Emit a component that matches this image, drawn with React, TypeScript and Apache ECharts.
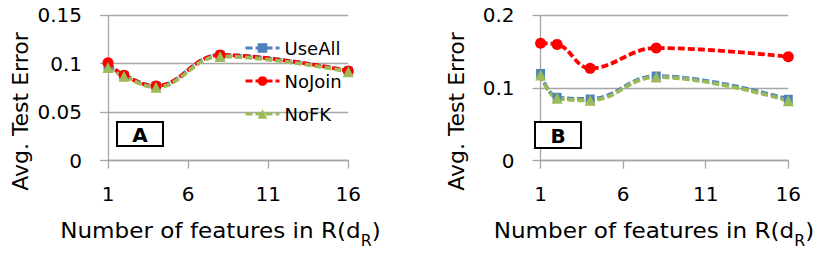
import React, { useEffect, useRef } from "react";
import * as echarts from "echarts";

const xValues = [1, 2, 4, 8, 16];
const xTicks = { min: 1, max: 16, interval: 5 };

// Panel A
const aUseAll = [0.098, 0.088, 0.077, 0.109, 0.0925];
const aNoJoin = [0.101, 0.088, 0.077, 0.109, 0.0925];
const aNoFK = [0.096, 0.087, 0.0757, 0.1075, 0.0918];

// Panel B
const bUseAll = [0.12, 0.0872, 0.0849, 0.1165, 0.0845];
const bNoJoin = [0.1615, 0.16, 0.127, 0.155, 0.143];
const bNoFK = [0.118, 0.086, 0.083, 0.115, 0.0825];

const seriesNames = ["UseAll", "NoJoin", "NoFK"];
const yTitle = "Avg. Test Error";
const xTitleParts = ["Number of features in R(d", "R", ")"];
const panelLabels = ["A", "B"];

const FONT = "DejaVu Sans";
const COLORS = { UseAll: "#4F81BD", NoJoin: "#FF0000", NoFK: "#9BBB59" };
const SYMBOLS = { UseAll: ["rect", 9], NoJoin: ["circle", 11], NoFK: ["triangle", 11] };

function pairs(vals: number[]) {
  return xValues.map((x, i) => [x, vals[i]]);
}

function makeSeries(name: string, vals: number[], idx: number) {
  const [symbol, size] = (SYMBOLS as any)[name];
  const color = (COLORS as any)[name];
  return {
    name,
    type: "line",
    xAxisIndex: idx,
    yAxisIndex: idx,
    data: pairs(vals),
    smooth: 0.4,
    symbol,
    symbolSize: size,
    showSymbol: true,
    itemStyle: { color },
    lineStyle: { color, width: 3.8, type: [7, 3] },
  };
}

const gridColor = "#A6A6A6";

function xAxisDef(gridIndex: number) {
  return {
    type: "value",
    gridIndex,
    min: xTicks.min,
    max: xTicks.max,
    interval: xTicks.interval,
    axisLine: { show: true, lineStyle: { color: gridColor, width: 1.3 } },
    axisTick: { show: true, length: 8, lineStyle: { color: gridColor, width: 1.3 } },
    splitLine: { show: false },
    axisLabel: { fontSize: 20, fontFamily: FONT, color: "#000", margin: 23 },
  };
}

function yAxisDef(gridIndex: number, max: number, interval: number) {
  return {
    type: "value",
    gridIndex,
    min: 0,
    max,
    interval,
    axisLine: { show: true, lineStyle: { color: gridColor, width: 1.3 } },
    axisTick: { show: true, length: 8, lineStyle: { color: gridColor, width: 1.3 } },
    splitLine: { show: true, lineStyle: { color: gridColor, width: 1.3 } },
    axisLabel: {
      fontSize: 20,
      fontFamily: FONT,
      color: "#000",
      margin: 26,
      formatter: (v: number) => String(+v.toFixed(3)),
    },
  };
}

function yTitleEl(cx: number, cy: number) {
  return {
    type: "text",
    x: cx,
    y: cy,
    rotation: Math.PI / 2,
    style: {
      text: yTitle,
      fontSize: 22,
      fontFamily: FONT,
      fill: "#000",
      align: "center",
      verticalAlign: "middle",
    },
  };
}

function measure(text: string, size: number) {
  const c = document.createElement("canvas").getContext("2d");
  if (!c) return text.length * size * 0.6;
  c.font = `${size}px "${FONT}"`;
  return c.measureText(text).width;
}

const MAIN_SIZE = 22;
const SUB_SIZE = 15;
const X_SCALE = 1.05;

function xTitleEl(cx: number, baseline: number) {
  const w1 = measure(xTitleParts[0], MAIN_SIZE);
  const w2 = measure(xTitleParts[1], SUB_SIZE);
  const w3 = measure(xTitleParts[2], MAIN_SIZE);
  const total = w1 + w2 + w3;
  const mainY = baseline - 0.346 * MAIN_SIZE;
  const subY = baseline + 8 - 0.346 * SUB_SIZE;
  const common = { fontFamily: FONT, fill: "#000", align: "left", verticalAlign: "middle" };
  return {
    type: "group",
    x: cx,
    y: 0,
    scaleX: X_SCALE,
    children: [
      { type: "text", x: -total / 2, y: mainY, style: { ...common, text: xTitleParts[0], fontSize: MAIN_SIZE } },
      { type: "text", x: -total / 2 + w1, y: subY, style: { ...common, text: xTitleParts[1], fontSize: SUB_SIZE } },
      { type: "text", x: -total / 2 + w1 + w2, y: mainY, style: { ...common, text: xTitleParts[2], fontSize: MAIN_SIZE } },
    ],
  };
}

function boxEl(x: number, y: number, w: number, h: number, label: string) {
  return [
    {
      type: "rect",
      shape: { x, y, width: w, height: h },
      style: { fill: "#fff", stroke: "#000", lineWidth: 2 },
      z: 10,
    },
    {
      type: "text",
      x: x + w / 2,
      y: y + h / 2 + 1,
      z: 11,
      style: {
        text: label,
        fontSize: 20,
        fontWeight: "bold",
        fontFamily: FONT,
        fill: "#000",
        align: "center",
        verticalAlign: "middle",
      },
    },
  ];
}

export default function App() {
  const ref = useRef<HTMLDivElement>(null);
  useEffect(() => {
    if (!ref.current) return;
    const chart = echarts.init(ref.current, null, { renderer: "svg" });
    chart.setOption({
      animation: false,
      backgroundColor: "#fff",
      grid: [
        { left: 108, top: 15.3, width: 240.3, height: 145.2 },
        { left: 540.6, top: 15.3, width: 247.7, height: 145.4 },
      ],
      xAxis: [xAxisDef(0), xAxisDef(1)],
      yAxis: [yAxisDef(0, 0.15, 0.05), yAxisDef(1, 0.2, 0.1)],
      legend: {
        orient: "vertical",
        left: 239,
        top: 34,
        itemWidth: 34,
        itemHeight: 12,
        itemGap: 15,
        data: seriesNames,
        lineStyle: { width: 3 },
        textStyle: { fontSize: 18, fontFamily: FONT, color: "#000" },
      },
      series: [
        makeSeries("UseAll", aUseAll, 0),
        makeSeries("NoJoin", aNoJoin, 0),
        makeSeries("NoFK", aNoFK, 0),
        makeSeries("UseAll", bUseAll, 1),
        makeSeries("NoJoin", bNoJoin, 1),
        makeSeries("NoFK", bNoFK, 1),
      ],
      graphic: [
        yTitleEl(20, 111.5),
        yTitleEl(456, 111.5),
        xTitleEl(220.5, 238),
        xTitleEl(654, 238),
        ...boxEl(117, 122, 46, 24, panelLabels[0]),
        ...boxEl(535, 122, 46, 26, panelLabels[1]),
      ],
    });
    return () => chart.dispose();
  }, []);
  return (
    <div
      ref={ref}
      style={{ position: "absolute", left: 0, top: 0, width: 823, height: 265 }}
    />
  );
}
